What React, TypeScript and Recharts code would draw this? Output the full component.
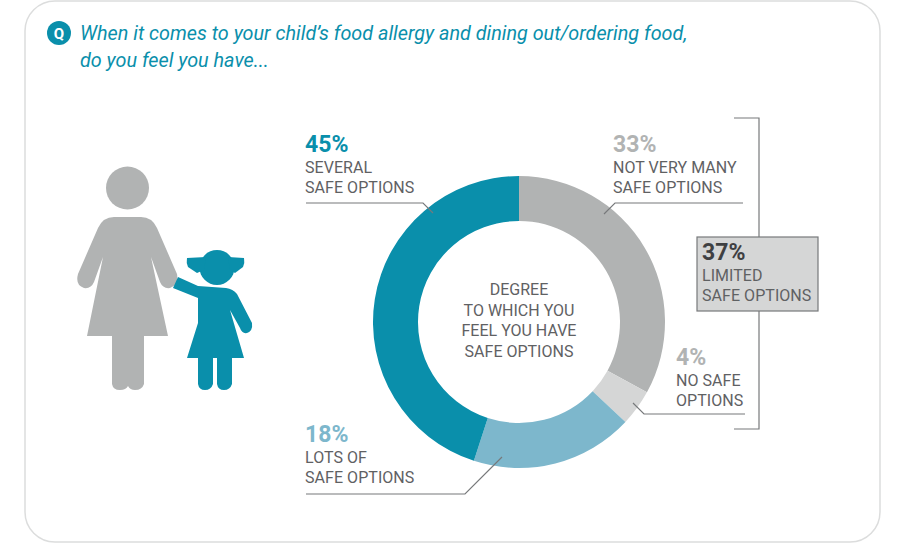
import { PieChart, Pie, Cell } from "recharts";

const categories = ["Not very many safe options", "No safe options", "Lots of safe options", "Several safe options"];
const shares = [33, 4, 18, 45];
const sliceColors = ["#b1b3b3", "#d5d6d6", "#7db7cc", "#0a8fab"];

const titleLines = [
  "When it comes to your child’s food allergy and dining out/ordering food,",
  "do you feel you have...",
];
const centerLines = ["DEGREE", "TO WHICH YOU", "FEEL YOU HAVE", "SAFE OPTIONS"];
const calloutLines = [
  ["NOT VERY MANY", "SAFE OPTIONS"],
  ["NO SAFE", "OPTIONS"],
  ["LOTS OF", "SAFE OPTIONS"],
  ["SEVERAL", "SAFE OPTIONS"],
];
const limitedShare = 37;
const limitedLines = ["LIMITED", "SAFE OPTIONS"];

const data = categories.map((name, i) => ({ name, value: shares[i] }));

const FONT = "Roboto, sans-serif";
const TEAL = "#0a8fab";
const GREY = "#b1b3b3";
const TEXT = "#5f6163";
const LINE = "#77797b";

// where each callout sits, same order as categories
const calloutPos = [
  { x: 613, y: 152, color: "#b1b3b3", leader: "M604 214 L615 203 L743 203" },
  { x: 676, y: 365, color: "#b1b3b3", leader: "M633 403 L644 414 L745 414" },
  { x: 305, y: 442, color: "#7db7cc", leader: "M306 494 L465 494 L502 457" },
  { x: 305, y: 152, color: "#0a8fab", leader: "M306 203 L423 203 L433 213" },
];

function Callout({ x, y, color, pct, lines }: { x: number; y: number; color: string; pct: number; lines: string[] }) {
  return (
    <g fontFamily={FONT}>
      <text x={x} y={y} fontSize={23} fontWeight={700} fill={color}>
        {pct}%
      </text>
      {lines.map((l, i) => (
        <text key={l} x={x} y={y + 21 + i * 20} fontSize={16} fill={TEXT} letterSpacing={0.05}>
          {l}
        </text>
      ))}
    </g>
  );
}

function Woman() {
  return (
    <g fill={GREY}>
      <circle cx={127.5} cy={188} r={21.5} />
      <path d="M114 217 L141 217 Q152 217 157 228 L177 274 Q179 285 170 288 Q163 289 160 282 L151 257 L168 336 L144 336 L144 384 Q142 390 135 390 Q130 390 128 386 Q126 390 120 390 Q113 390 112 384 L112 336 L87 336 L103 257 L94 282 Q91 289 84 288 Q75 285 78 274 L98 228 Q103 217 114 217 Z" />
    </g>
  );
}

function Girl() {
  return (
    <g fill={TEAL}>
      <circle cx={217} cy={267.5} r={17.5} />
      <path d="M206 257 L187 258 Q186 263 188 267 L197 273 L204 270 Z" />
      <path d="M228 257 L244 258 Q245 263 243 267 L235 273 L230 270 Z" />
      <path d="M178 277 L198 286 L226 288 Q233 289 237 294 L252 323 Q253 331 247 333 Q242 334 240 328 L230 310 L244 358 L232 358 L232 384 Q230 390 224 390 Q218 390 217 384 L217 358 L213 358 L213 384 Q211 390 205 390 Q199 390 198 384 L198 358 L187 358 L198 323 L198 298 L173 288 Z" />
    </g>
  );
}

export default function App() {
  return (
    <div style={{ position: "absolute", left: 0, top: 0, width: 900, height: 550, background: "#fff" }}>
      <div style={{ position: "absolute", left: 0, top: 0 }}>
        <PieChart width={900} height={550} margin={{ top: 0, right: 0, bottom: 0, left: 0 }}>
          <Pie
            data={data}
            dataKey="value"
            nameKey="name"
            cx={519}
            cy={322}
            innerRadius={101}
            outerRadius={146}
            startAngle={90}
            endAngle={-270}
            stroke="none"
            isAnimationActive={false}
          >
            {data.map((d, i) => (
              <Cell key={d.name} fill={sliceColors[i]} />
            ))}
          </Pie>
        </PieChart>
      </div>
      <svg width={900} height={550} style={{ position: "absolute", left: 0, top: 0 }}>
        <rect x={25} y={1} width={855} height={541} rx={30} fill="none" stroke="#dcdddd" strokeWidth={1.5} />

        <circle cx={59} cy={33} r={12} fill={TEAL} />
        <text x={59} y={38.5} textAnchor="middle" fontFamily={FONT} fontSize={15} fontWeight={700} fill="#fff">
          Q
        </text>
        {titleLines.map((t, i) => (
          <text key={t} x={80} y={40 + i * 27} fontFamily={FONT} fontSize={19.8} fontStyle="italic" fill={TEAL}>
            {t}
          </text>
        ))}

        <Woman />
        <Girl />

        {centerLines.map((t, i) => (
          <text key={t} x={519} y={295 + i * 20.5} textAnchor="middle" fontFamily={FONT} fontSize={16} fill={TEXT}>
            {t}
          </text>
        ))}

        {calloutPos.map((c, i) => (
          <g key={categories[i]}>
            <path d={c.leader} fill="none" stroke={LINE} strokeWidth={1.2} />
            <Callout x={c.x} y={c.y} color={c.color} pct={shares[i]} lines={calloutLines[i]} />
          </g>
        ))}

        <path d="M734 118 L759 118 L759 429 L734 429" fill="none" stroke={LINE} strokeWidth={1.2} />
        <rect x={697} y={237} width={121} height={74} fill="#d5d6d6" stroke={LINE} strokeWidth={1.2} />
        <Callout x={702} y={260} color="#3f4042" pct={limitedShare} lines={limitedLines} />
      </svg>
    </div>
  );
}
